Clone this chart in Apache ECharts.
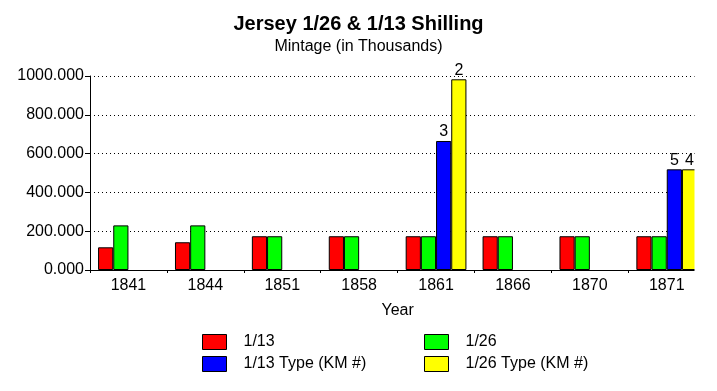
<!DOCTYPE html>
<html>
<head>
<meta charset="utf-8">
<script src="https://cdn.jsdelivr.net/npm/echarts@6/dist/echarts.min.js"></script>
<style>
html,body{margin:0;padding:0;background:#fff;}
#chart{width:717px;height:391px;}
</style>
</head>
<body>
<div id="chart"></div>
<script>
var years = ['1841','1844','1851','1858','1861','1866','1870','1871'];
var mint1_13 = [117,143,174,174,174,174,174,174];
var mint1_26 = [230,230,174,174,174,174,174,174];
var type1_13 = [null,null,null,null,665,null,null,519];
var type1_26 = [null,null,null,null,983,null,null,519];
var km1_13 = ['','','','','3','','','5'];
var km1_26 = ['','','','','2','','','4'];
var yTicks = [0,200,400,600,800,1000];

var FONT = '"Liberation Sans", Arial, sans-serif';
var chart = echarts.init(document.getElementById('chart'), null, {renderer:'canvas'});

function barSeries(name, data, color, labels){
  var s = {
    name: name, type: 'bar', data: data,
    barGap: '0%', barCategoryGap: '21%',
    itemStyle: {color: color, borderColor: '#000', borderWidth: 1},
    emphasis: {disabled: true},
    animation: false
  };
  if (labels) {
    s.label = {
      show: true, position: 'top', distance: 1,
      fontFamily: FONT, fontSize: 16, color: '#000',
      formatter: function(p){ return labels[p.dataIndex] || ''; }
    };
  }
  return s;
}

var legendText = {fontFamily: FONT, fontSize: 16, color: '#000', padding: [0,0,0,12]};

chart.setOption({
  backgroundColor: '#fff',
  animation: false,
  title: [
    {text: 'Jersey 1/26 & 1/13 Shilling', left: 'center', top: 9,
     textStyle: {fontFamily: FONT, fontSize: 20, fontWeight: 'bold', color: '#000'}},
    {text: 'Mintage (in Thousands)', left: 'center', top: 34,
     textStyle: {fontFamily: FONT, fontSize: 16, fontWeight: 'normal', color: '#000'}}
  ],
  legend: [
    {data: ['1/13', '1/13 Type (KM #)'], orient: 'vertical', left: 202, top: 334, padding: 0,
     itemWidth: 24, itemHeight: 15, itemGap: 6, icon: 'rect',
     itemStyle: {borderColor: '#000', borderWidth: 1},
     textStyle: legendText, selectedMode: false},
    {data: ['1/26', '1/26 Type (KM #)'], orient: 'vertical', left: 424, top: 334, padding: 0,
     itemWidth: 24, itemHeight: 15, itemGap: 6, icon: 'rect',
     itemStyle: {borderColor: '#000', borderWidth: 1},
     textStyle: legendText, selectedMode: false}
  ],
  grid: {left: 90, top: 76, width: 615.2, height: 194, containLabel: false},
  xAxis: {
    type: 'category', data: years,
    name: 'Year', nameLocation: 'middle', nameGap: 33,
    nameTextStyle: {fontFamily: FONT, fontSize: 16, color: '#000'},
    axisLine: {lineStyle: {color: '#000', width: 1}},
    axisTick: {show: true, length: 3, interval: 0, lineStyle: {color: '#000'}},
    axisLabel: {fontFamily: FONT, fontSize: 16, color: '#000', margin: 8, interval: 0},
    splitLine: {show: false}
  },
  yAxis: {
    type: 'value', min: yTicks[0], max: yTicks[yTicks.length-1], interval: 200,
    axisLine: {show: true, lineStyle: {color: '#000', width: 1}},
    axisTick: {show: true, length: 5, lineStyle: {color: '#000'}},
    axisLabel: {fontFamily: FONT, fontSize: 16, color: '#000', margin: 6,
      formatter: function(v){ return v.toFixed(3); }},
    splitLine: {show: true, lineStyle: {color: '#000', width: 1, type: [1,3]}}
  },
  series: [
    barSeries('1/13', mint1_13, '#ff0000'),
    barSeries('1/26', mint1_26, '#00ff00'),
    barSeries('1/13 Type (KM #)', type1_13, '#0000ff', km1_13),
    barSeries('1/26 Type (KM #)', type1_26, '#ffff00', km1_26)
  ],
  graphic: [
    {type: 'rect', z: 100, silent: true,
     shape: {x: 694.5, y: 60, width: 30, height: 97},
     style: {fill: '#fff'}},
    {type: 'rect', z: 100, silent: true,
     shape: {x: 694.5, y: 166, width: 30, height: 114},
     style: {fill: '#fff'}}
  ]
});
</script>
</body>
</html>
